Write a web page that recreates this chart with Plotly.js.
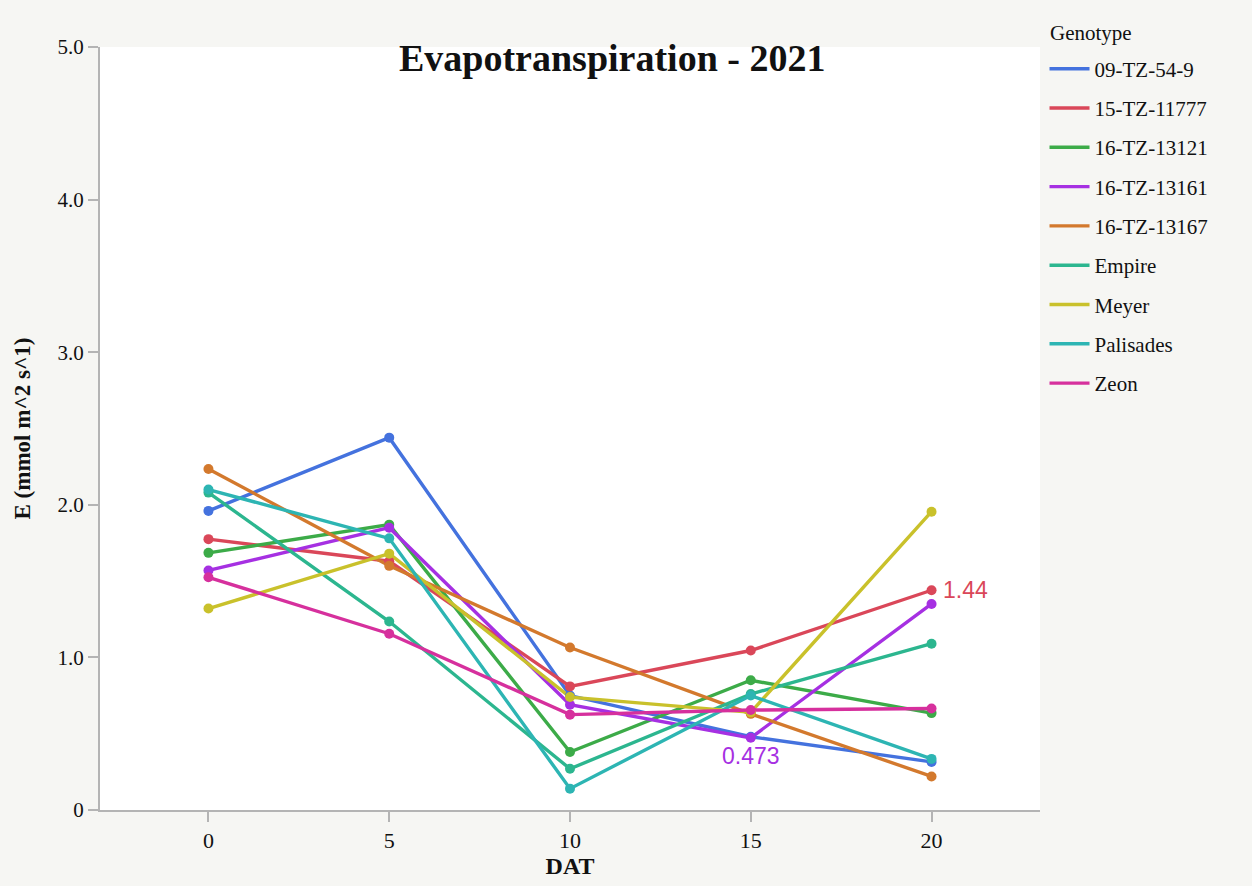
<!DOCTYPE html>
<html>
<head>
<meta charset="utf-8">
<script src="https://cdn.plot.ly/plotly-3.0.1.min.js"></script>
<style>html,body{margin:0;padding:0;background:#f6f6f3;}</style>
</head>
<body>
<div id="chart" style="width:1252px;height:886px;"></div>
<script>
const dat = [0, 5, 10, 15, 20];
const genotypes = ["09-TZ-54-9","15-TZ-11777","16-TZ-13121","16-TZ-13161","16-TZ-13167","Empire","Meyer","Palisades","Zeon"];
const colors = ["#4472DE","#DA4759","#3CAB48","#A630E2","#D3792D","#2CB68F","#C9C12B","#2DB5B3","#D6309D"];
const v_09TZ549   = [1.96, 2.44, 0.75, 0.48, 0.315];
const v_15TZ11777 = [1.775, 1.63, 0.81, 1.045, 1.44];
const v_16TZ13121 = [1.685, 1.87, 0.38, 0.85, 0.635];
const v_16TZ13161 = [1.57, 1.85, 0.69, 0.473, 1.35];
const v_16TZ13167 = [2.235, 1.60, 1.065, 0.63, 0.22];
const v_Empire    = [2.08, 1.235, 0.27, 0.76, 1.09];
const v_Meyer     = [1.32, 1.68, 0.74, 0.64, 1.955];
const v_Palisades = [2.10, 1.78, 0.14, 0.75, 0.335];
const v_Zeon      = [1.525, 1.155, 0.625, 0.655, 0.665];
const series = [v_09TZ549, v_15TZ11777, v_16TZ13121, v_16TZ13161, v_16TZ13167, v_Empire, v_Meyer, v_Palisades, v_Zeon];
const yTicks = [0, 1, 2, 3, 4, 5];
const yTickText = ["0", "1.0", "2.0", "3.0", "4.0", "5.0"];
const xTicks = [0, 5, 10, 15, 20];

const serif = "Liberation Serif, Times New Roman, serif";
const sans = "Liberation Sans, Arial, sans-serif";
const traces = [];
genotypes.forEach((g, i) => {
  traces.push({
    x: dat, y: series[i], name: g, type: "scatter", mode: "lines",
    legendgroup: g, line: {color: colors[i], width: 3.4}
  });
});
genotypes.forEach((g, i) => {
  traces.push({
    x: dat, y: series[i], name: g, type: "scatter", mode: "markers",
    legendgroup: g, showlegend: false, marker: {color: colors[i], size: 10}
  });
});

const layout = {
  width: 1252, height: 886,
  paper_bgcolor: "#f6f6f3", plot_bgcolor: "#ffffff",
  margin: {l: 100, r: 212, t: 47, b: 76},
  title: {text: "<b>Evapotranspiration - 2021</b>", font: {family: serif, size: 38, color: "#111"},
          x: 0.489, xanchor: "center", y: 0.935, yanchor: "middle"},
  xaxis: {range: [-3, 23], tickvals: xTicks, ticktext: xTicks.map(String),
          showgrid: false, zeroline: false, showline: true, linecolor: "#b4b4b4", linewidth: 2,
          ticks: "outside", ticklen: 10, tickcolor: "#b4b4b4", tickwidth: 1.5,
          tickfont: {family: serif, size: 22, color: "#111"},
          title: {text: "<b>DAT</b>", font: {family: serif, size: 24, color: "#111"}, standoff: 4}},
  yaxis: {range: [0, 5], tickvals: yTicks, ticktext: yTickText,
          showgrid: false, zeroline: false, showline: true, linecolor: "#b4b4b4", linewidth: 2,
          ticks: "outside", ticklen: 10, tickcolor: "#b4b4b4", tickwidth: 1.5,
          tickfont: {family: serif, size: 21, color: "#111"},
          title: {text: "<b>E (mmol m^2 s^1)</b>", font: {family: serif, size: 23, color: "#111"}, standoff: 20}},
  legend: {x: 1.0048, xanchor: "left", y: 0.998, yanchor: "top",
           font: {family: serif, size: 21, color: "#111"},
           tracegroupgap: 9, itemwidth: 40, bgcolor: "rgba(0,0,0,0)"},
  annotations: [
    {xref: "paper", yref: "paper", x: 1.0085, y: (810 - 33) / 763, xanchor: "left", yanchor: "middle",
     text: "Genotype", showarrow: false, font: {family: serif, size: 21, color: "#111"}},
    {x: dat[4], y: v_15TZ11777[4], text: String(v_15TZ11777[4]), showarrow: false, xanchor: "left", xshift: 9, yshift: 0,
     font: {family: sans, size: 23, color: colors[1]}},
    {x: dat[3], y: v_16TZ13161[3], text: String(v_16TZ13161[3]), showarrow: false, xanchor: "center", yshift: -18,
     font: {family: sans, size: 23, color: colors[3]}}
  ],
  showlegend: true
};
Plotly.newPlot("chart", traces, layout, {displayModeBar: false});
</script>
</body>
</html>
